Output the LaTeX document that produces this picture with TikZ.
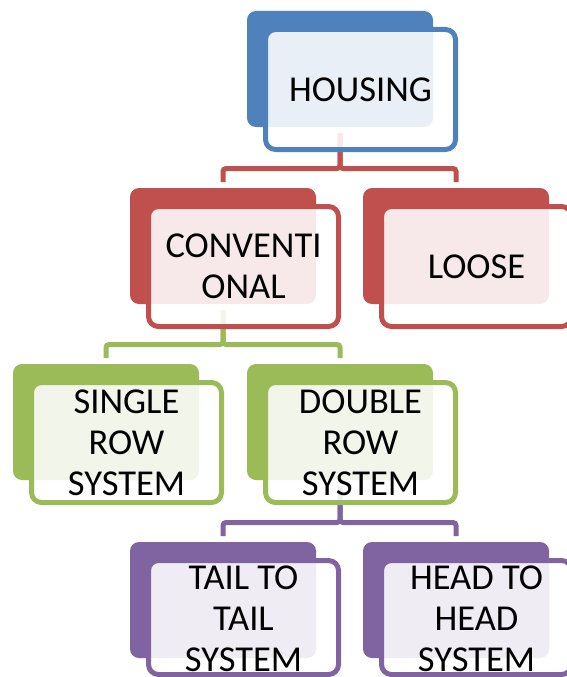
\documentclass[tikz,border=0pt]{standalone}
\usepackage{fontspec}
\setmainfont{Carlito}
\definecolor{cblue}{HTML}{4F81BD}
\definecolor{cred}{HTML}{C0504D}
\definecolor{cgreen}{HTML}{9BBB59}
\definecolor{cpurple}{HTML}{8064A2}
\tikzset{
  backbox/.style={fill=#1, draw=none, rounded corners=9pt, minimum width=186pt, minimum height=116pt, anchor=north west, inner sep=0pt, outer sep=0pt},
  frontbox/.style={draw=#1, line width=5pt, fill=white, fill opacity=0.88, rounded corners=10pt, minimum width=190pt, minimum height=120pt, anchor=north west, inner sep=0pt, outer sep=0pt},
  conn/.style={draw=#1, line width=5pt, rounded corners=3pt, shorten <=6pt, shorten >=6pt},
  lbl/.style={align=center, font=\fontsize{36.5}{41}\selectfont, text=black, inner sep=0pt},
}
\begin{document}
\begin{tikzpicture}[x=1pt,y=-1pt]
\useasboundingbox (0,0) rectangle (567,677);
\clip (0,0) rectangle (567,677);
\fill[white] (0,0) rectangle (567,677);
% back boxes
\node[backbox=cblue]   (hb) at (247,11) {};
\node[backbox=cred]    (cb) at (130,188) {};
\node[backbox=cred]    (lb) at (363,188) {};
\node[backbox=cgreen]  (sb) at (13,364) {};
\node[backbox=cgreen]  (db) at (247,364) {};
\node[backbox=cpurple] (tb) at (130,542) {};
\node[backbox=cpurple] (eb) at (363,542) {};
% junctions
\coordinate (j1) at ([yshift=19.5pt]cb.north);
\coordinate (j2) at ([yshift=19.5pt]sb.north);
\coordinate (j3) at ([yshift=19.5pt]tb.north);
% connectors
\draw[conn=cred] (hb.south) |- (cb.north |- j1) -- (cb.north);
\draw[conn=cred] (hb.south) |- (lb.north |- j1) -- (lb.north);
\draw[conn=cgreen] (cb.south) |- (sb.north |- j2) -- (sb.north);
\draw[conn=cgreen] (cb.south) |- (db.north |- j2) -- (db.north);
\draw[conn=cpurple] (db.south) |- (tb.north |- j3) -- (tb.north);
\draw[conn=cpurple] (db.south) |- (eb.north |- j3) -- (eb.north);
% front boxes
\node[frontbox=cblue]   (hf) at ([xshift=18.5pt,yshift=-18.5pt]hb.north west) {};
\node[frontbox=cred]    (cf) at ([xshift=18.5pt,yshift=-18.5pt]cb.north west) {};
\node[frontbox=cred]    (lf) at ([xshift=18.5pt,yshift=-18.5pt]lb.north west) {};
\node[frontbox=cgreen]  (sf) at ([xshift=18.5pt,yshift=-18.5pt]sb.north west) {};
\node[frontbox=cgreen]  (df) at ([xshift=18.5pt,yshift=-18.5pt]db.north west) {};
\node[frontbox=cpurple, minimum height=114pt] (tf) at ([xshift=18.5pt,yshift=-18.5pt]tb.north west) {};
\node[frontbox=cpurple, minimum height=114pt] (ef) at ([xshift=18.5pt,yshift=-18.5pt]eb.north west) {};
% labels
\node[lbl] (ht) at (hf.center) {HOUSING};
\node[lbl] (ct) at (cf.center) {CONVENTI\\ONAL};
\node[lbl] (lt) at (lf.center) {LOOSE};
\node[lbl] (st) at (sf.center) {SINGLE\\ROW\\SYSTEM};
\node[lbl] (dt) at (df.center) {DOUBLE\\ROW\\SYSTEM};
\node[lbl] (tt) at ([xshift=113.5pt,yshift=-77pt]tb.north west) {TAIL TO\\TAIL\\SYSTEM};
\node[lbl] (et) at ([xshift=113.5pt,yshift=-77pt]eb.north west) {HEAD TO\\HEAD\\SYSTEM};
\end{tikzpicture}
\end{document}
